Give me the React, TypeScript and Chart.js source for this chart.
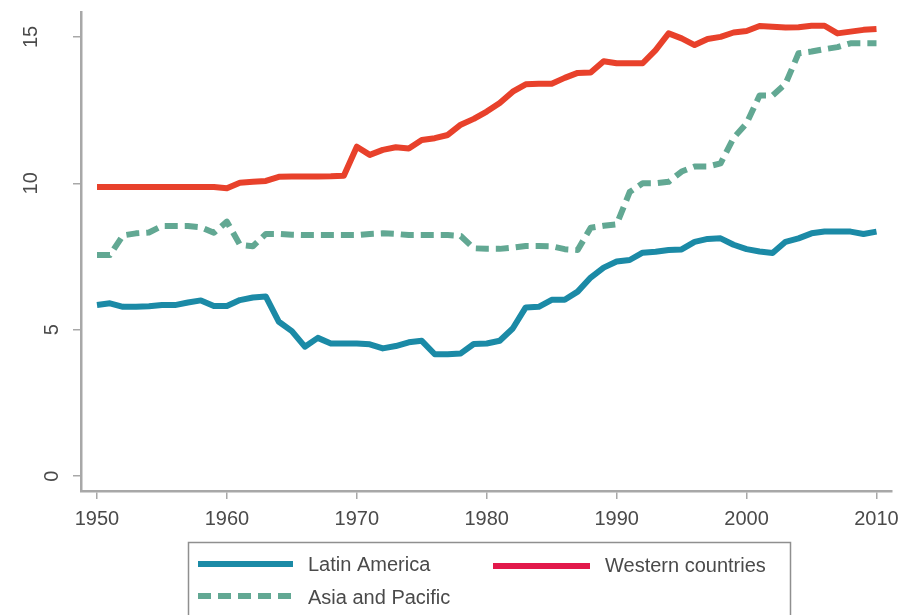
import React, { useEffect, useRef } from "react";
import { Chart, registerables } from "chart.js";

Chart.register(...registerables);

const years = [
  1950, 1951, 1952, 1953, 1954, 1955, 1956, 1957, 1958, 1959,
  1960, 1961, 1962, 1963, 1964, 1965, 1966, 1967, 1968, 1969,
  1970, 1971, 1972, 1973, 1974, 1975, 1976, 1977, 1978, 1979,
  1980, 1981, 1982, 1983, 1984, 1985, 1986, 1987, 1988, 1989,
  1990, 1991, 1992, 1993, 1994, 1995, 1996, 1997, 1998, 1999,
  2000, 2001, 2002, 2003, 2004, 2005, 2006, 2007, 2008, 2009,
  2010,
];

const latinAmerica = [
  5.84, 5.9, 5.78, 5.78, 5.8, 5.84, 5.84, 5.93, 6.0, 5.81,
  5.81, 6.01, 6.1, 6.13, 5.27, 4.95, 4.42, 4.72, 4.53, 4.53,
  4.53, 4.5, 4.36, 4.44, 4.57, 4.62, 4.16, 4.16, 4.19, 4.51,
  4.53, 4.62, 5.04, 5.76, 5.78, 6.02, 6.02, 6.3, 6.78, 7.12,
  7.33, 7.38, 7.63, 7.66, 7.72, 7.74, 8.0, 8.1, 8.12, 7.9,
  7.75, 7.67, 7.62, 8.0, 8.12, 8.29, 8.35, 8.35, 8.35, 8.27,
  8.35,
];

const westernCountries = [
  9.87, 9.87, 9.87, 9.87, 9.87, 9.87, 9.87, 9.87, 9.87, 9.87,
  9.83, 10.02, 10.05, 10.08, 10.22, 10.23, 10.23, 10.23, 10.24, 10.26,
  11.25, 10.97, 11.14, 11.23, 11.19, 11.48, 11.54, 11.65, 12.0, 12.2,
  12.45, 12.74, 13.13, 13.38, 13.4, 13.4, 13.6, 13.77, 13.78, 14.17,
  14.1, 14.1, 14.1, 14.55, 15.12, 14.95, 14.72, 14.93, 15.0, 15.15,
  15.2, 15.37, 15.35, 15.32, 15.33, 15.38, 15.38, 15.12, 15.18, 15.24,
  15.27,
];

const asiaPacific = [
  7.55, 7.55, 8.22, 8.29, 8.32, 8.54, 8.54, 8.54, 8.5, 8.31,
  8.69, 7.9, 7.85, 8.27, 8.27, 8.24, 8.23, 8.23, 8.23, 8.23,
  8.23, 8.27, 8.29, 8.27, 8.23, 8.23, 8.23, 8.23, 8.2, 7.78,
  7.76, 7.76, 7.8, 7.86, 7.86, 7.85, 7.75, 7.72, 8.48, 8.55,
  8.6, 9.7, 10.0, 10.0, 10.05, 10.4, 10.57, 10.57, 10.68, 11.55,
  12.05, 13.0, 13.0, 13.4, 14.44, 14.5, 14.58, 14.65, 14.78, 14.78,
  14.78,
];

const xTickValues = [1950, 1960, 1970, 1980, 1990, 2000, 2010];
const yTickValues = [0, 5, 10, 15];

const seriesNames = ["Latin America", "Western countries", "Asia and Pacific"];

const BLUE = "#1b8aa6";
const RED = "#e8412b";
const LEGEND_RED = "#e2194b";
const GREEN = "#62a893";
const AXIS = "#a8a8a8";
const TEXT = "#4a4a4a";
const FONT = '"Liberation Sans", Arial, sans-serif';

function toPoints(values: number[]) {
  return years.map((yr, i) => ({ x: yr, y: values[i] }));
}

const yLabelPlugin = {
  id: "yLabels",
  afterDraw(chart: any) {
    const ctx = chart.ctx;
    const ys = chart.scales.y;
    ctx.save();
    ctx.fillStyle = TEXT;
    ctx.font = `20px ${FONT}`;
    ctx.textAlign = "center";
    ctx.textBaseline = "middle";
    yTickValues.forEach((v) => {
      const label = String(v);
      const py = ys.getPixelForValue(v);
      const px = label.length > 1 ? 31 : 52;
      ctx.save();
      ctx.translate(px, py);
      ctx.rotate(-Math.PI / 2);
      ctx.fillText(label, 0, 0);
      ctx.restore();
    });
    ctx.restore();
  },
};

const legendPlugin = {
  id: "customLegend",
  afterDraw(chart: any) {
    const ctx = chart.ctx;
    ctx.save();
    ctx.strokeStyle = "#8f8f8f";
    ctx.lineWidth = 1.5;
    ctx.strokeRect(188.5, 542.5, 602, 90);

    const drawLine = (x1: number, x2: number, y: number, color: string, dash: number[]) => {
      ctx.save();
      ctx.strokeStyle = color;
      ctx.lineWidth = 6;
      ctx.lineCap = "butt";
      ctx.setLineDash(dash);
      ctx.beginPath();
      ctx.moveTo(x1, y);
      ctx.lineTo(x2, y);
      ctx.stroke();
      ctx.restore();
    };
    drawLine(198, 293, 564, BLUE, []);
    drawLine(493, 590, 566, LEGEND_RED, []);
    drawLine(198, 293, 596, GREEN, [13, 7]);

    ctx.fillStyle = TEXT;
    ctx.font = `20px ${FONT}`;
    ctx.textAlign = "left";
    ctx.textBaseline = "middle";
    ctx.fillText(seriesNames[0], 308, 565);
    ctx.fillText(seriesNames[1], 605, 566);
    ctx.fillText(seriesNames[2], 308, 598);
    ctx.restore();
  },
};

export default function App() {
  const canvasRef = useRef<HTMLCanvasElement | null>(null);

  useEffect(() => {
    const canvas = canvasRef.current;
    if (!canvas) return;
    const chart = new Chart(canvas, {
      type: "line",
      data: {
        datasets: [
          {
            label: seriesNames[1],
            data: toPoints(westernCountries),
            borderColor: RED,
            borderWidth: 6,
            pointRadius: 0,
            tension: 0,
            borderJoinStyle: "round",
          },
          {
            label: seriesNames[2],
            data: toPoints(asiaPacific),
            borderColor: GREEN,
            borderWidth: 6,
            borderDash: [13, 7],
            pointRadius: 0,
            tension: 0,
            borderJoinStyle: "round",
          },
          {
            label: seriesNames[0],
            data: toPoints(latinAmerica),
            borderColor: BLUE,
            borderWidth: 6,
            pointRadius: 0,
            tension: 0,
            borderJoinStyle: "round",
          },
        ],
      },
      options: {
        responsive: false,
        animation: false,
        devicePixelRatio: 1,
        layout: { padding: { top: 12, right: 14, left: 0, bottom: 0 } },
        plugins: {
          legend: { display: false },
          tooltip: { enabled: false },
        },
        scales: {
          x: {
            type: "linear",
            min: 1948.77,
            max: 2011.15,
            afterBuildTicks: (scale: any) => {
              scale.ticks = xTickValues.map((v) => ({ value: v }));
            },
            afterFit: (scale: any) => {
              scale.height = 124;
            },
            grid: {
              display: true,
              drawOnChartArea: false,
              drawTicks: true,
              tickLength: 8,
              color: AXIS,
              lineWidth: 1.5,
            },
            border: { display: true, color: AXIS, width: 2.5 },
            ticks: {
              color: TEXT,
              padding: 8,
              maxRotation: 0,
              autoSkip: false,
              font: { family: FONT, size: 20 },
              callback: (v: any) => String(v),
            },
          },
          y: {
            type: "linear",
            min: -0.51,
            max: 15.85,
            afterBuildTicks: (scale: any) => {
              scale.ticks = yTickValues.map((v) => ({ value: v }));
            },
            afterFit: (scale: any) => {
              scale.width = 81;
            },
            grid: {
              display: true,
              drawOnChartArea: false,
              drawTicks: true,
              tickLength: 8,
              color: AXIS,
              lineWidth: 1.5,
            },
            border: { display: true, color: AXIS, width: 2.5 },
            ticks: {
              display: false,
            },
          },
        },
      },
      plugins: [yLabelPlugin, legendPlugin],
    } as any);
    return () => chart.destroy();
  }, []);

  return (
    <div style={{ position: "absolute", left: 0, top: 0, width: 907, height: 615, background: "#fff" }}>
      <canvas ref={canvasRef} width={907} height={615} style={{ display: "block" }} />
    </div>
  );
}
